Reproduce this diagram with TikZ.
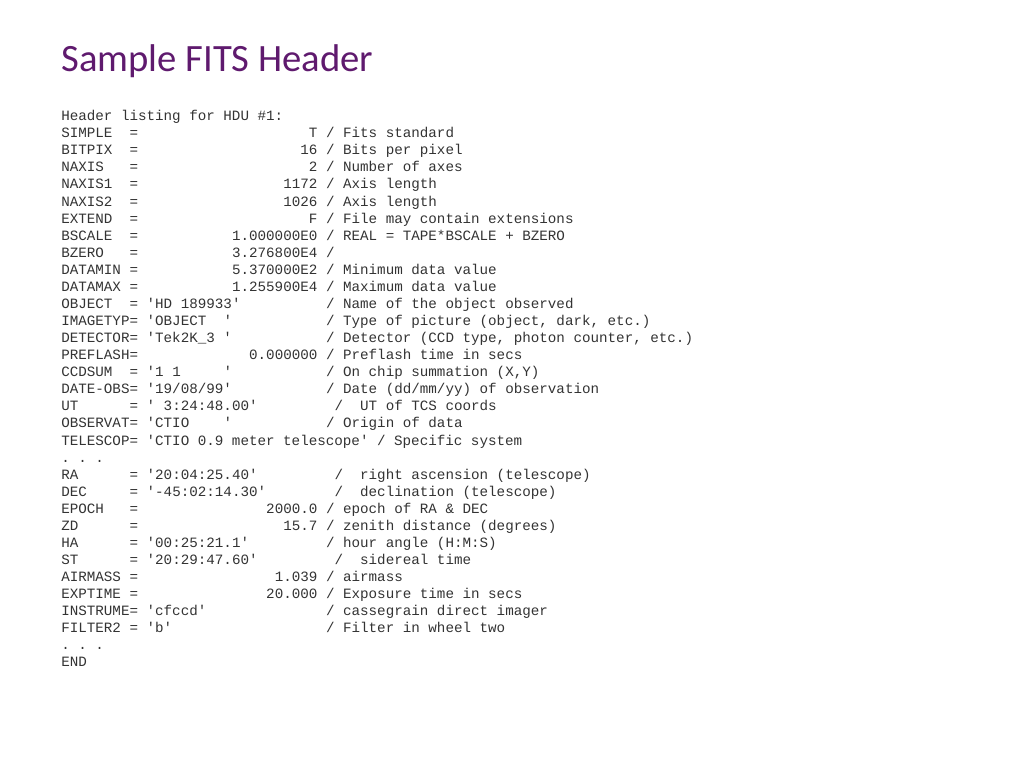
\documentclass[tikz,border=0pt]{standalone}
\usepackage{fontspec}
\setmonofont{Liberation Mono}
\newfontfamily\titlefont{Carlito}
\definecolor{5f1a6e}{HTML}{5F1A6E}
\definecolor{333333}{HTML}{333333}
\begin{document}
\begin{tikzpicture}[x=.75pt,y=-.75pt,hdr/.style={anchor=base west,inner sep=0,333333,font=\ttfamily\fontsize{10.67pt}{12pt}\selectfont}]
    \newcommand{\CW}{8.54}
    \newcommand{\LH}{17.07}
    \newcommand{\fld}[3]{\node[hdr](r#1c#2)at({61+\CW*#2},{120.7+\LH*#1}){#3};}
    \useasboundingbox(0,0)rectangle(1024,768);
    \node[anchor=base west,inner sep=0,5f1a6e,font=\titlefont\fontsize{29pt}{30pt}\selectfont](title)at(61,71.7){Sample FITS Header};
    \fld{0}{0}{Header listing for HDU \#1:}
    \fld{1}{0}{SIMPLE}\fld{1}{8}{=}\fld{1}{29}{T}\fld{1}{31}{/ Fits standard}
    \fld{2}{0}{BITPIX}\fld{2}{8}{=}\fld{2}{28}{16}\fld{2}{31}{/ Bits per pixel}
    \fld{3}{0}{NAXIS}\fld{3}{8}{=}\fld{3}{29}{2}\fld{3}{31}{/ Number of axes}
    \fld{4}{0}{NAXIS1}\fld{4}{8}{=}\fld{4}{26}{1172}\fld{4}{31}{/ Axis length}
    \fld{5}{0}{NAXIS2}\fld{5}{8}{=}\fld{5}{26}{1026}\fld{5}{31}{/ Axis length}
    \fld{6}{0}{EXTEND}\fld{6}{8}{=}\fld{6}{29}{F}\fld{6}{31}{/ File may contain extensions}
    \fld{7}{0}{BSCALE}\fld{7}{8}{=}\fld{7}{20}{1.000000E0}\fld{7}{31}{/ REAL = TAPE*BSCALE + BZERO}
    \fld{8}{0}{BZERO}\fld{8}{8}{=}\fld{8}{20}{3.276800E4}\fld{8}{31}{/}
    \fld{9}{0}{DATAMIN =}\fld{9}{20}{5.370000E2}\fld{9}{31}{/ Minimum data value}
    \fld{10}{0}{DATAMAX =}\fld{10}{20}{1.255900E4}\fld{10}{31}{/ Maximum data value}
    \fld{11}{0}{OBJECT}\fld{11}{8}{= 'HD 189933'}\fld{11}{31}{/ Name of the object observed}
    \fld{12}{0}{IMAGETYP= 'OBJECT}\fld{12}{19}{'}\fld{12}{31}{/ Type of picture (object, dark, etc.)}
    \fld{13}{0}{DETECTOR= 'Tek2K\_3 '}\fld{13}{31}{/ Detector (CCD type, photon counter, etc.)}
    \fld{14}{0}{PREFLASH=}\fld{14}{22}{0.000000}\fld{14}{31}{/ Preflash time in secs}
    \fld{15}{0}{CCDSUM}\fld{15}{8}{= '1 1}\fld{15}{19}{'}\fld{15}{31}{/ On chip summation (X,Y)}
    \fld{16}{0}{DATE-OBS= '19/08/99'}\fld{16}{31}{/ Date (dd/mm/yy) of observation}
    \fld{17}{0}{UT}\fld{17}{8}{= ' 3:24:48.00'}\fld{17}{32}{/}\fld{17}{35}{UT of TCS coords}
    \fld{18}{0}{OBSERVAT= 'CTIO}\fld{18}{19}{'}\fld{18}{31}{/ Origin of data}
    \fld{19}{0}{TELESCOP= 'CTIO 0.9 meter telescope' / Specific system}
    \fld{20}{0}{. . .}
    \fld{21}{0}{RA}\fld{21}{8}{= '20:04:25.40'}\fld{21}{32}{/}\fld{21}{35}{right ascension (telescope)}
    \fld{22}{0}{DEC}\fld{22}{8}{= '-45:02:14.30'}\fld{22}{32}{/}\fld{22}{35}{declination (telescope)}
    \fld{23}{0}{EPOCH}\fld{23}{8}{=}\fld{23}{24}{2000.0}\fld{23}{31}{/ epoch of RA \& DEC}
    \fld{24}{0}{ZD}\fld{24}{8}{=}\fld{24}{26}{15.7}\fld{24}{31}{/ zenith distance (degrees)}
    \fld{25}{0}{HA}\fld{25}{8}{= '00:25:21.1'}\fld{25}{31}{/ hour angle (H:M:S)}
    \fld{26}{0}{ST}\fld{26}{8}{= '20:29:47.60'}\fld{26}{32}{/}\fld{26}{35}{sidereal time}
    \fld{27}{0}{AIRMASS =}\fld{27}{25}{1.039}\fld{27}{31}{/ airmass}
    \fld{28}{0}{EXPTIME =}\fld{28}{24}{20.000}\fld{28}{31}{/ Exposure time in secs}
    \fld{29}{0}{INSTRUME= 'cfccd'}\fld{29}{31}{/ cassegrain direct imager}
    \fld{30}{0}{FILTER2 = 'b'}\fld{30}{31}{/ Filter in wheel two}
    \fld{31}{0}{. . .}
    \fld{32}{0}{END}
\end{tikzpicture}
\end{document}
